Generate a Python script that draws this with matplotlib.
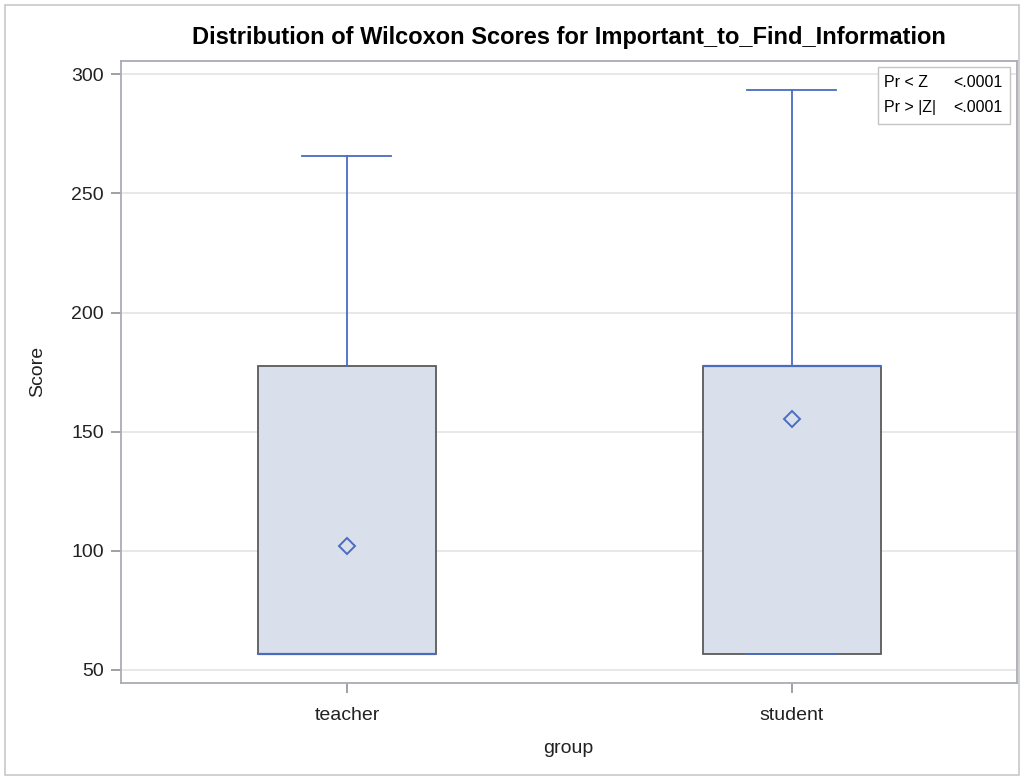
"""Box plot of Wilcoxon scores by group."""

import matplotlib

matplotlib.use("Agg")

import matplotlib.pyplot as plt
from matplotlib.patches import Rectangle

plt.rcParams["font.family"] = ["Liberation Sans", "DejaVu Sans"]

GROUPS = ["teacher", "student"]
WHISKER_LOW = [56.7, 56.7]
Q1 = [56.7, 56.7]
MEDIAN = [56.7, 177.6]
Q3 = [177.6, 177.6]
WHISKER_HIGH = [265.7, 293.4]
MEANS = [102.1, 155.4]
YTICKS = [50, 100, 150, 200, 250, 300]
PVALUE_ROWS = [("Pr < Z", "<.0001"), ("Pr > |Z|", "<.0001")]

BOX_FILL = "#dae0eb"
BOX_EDGE = "#5a5a5a"
LINE_BLUE = "#4a6cc0"
FRAME = "#a9adb3"

fig = plt.figure(figsize=(10.24, 7.78), dpi=100)
fig.patches.append(
    Rectangle((0.005, 0.004), 0.99, 0.99, transform=fig.transFigure,
              fill=False, edgecolor="#c8c8c8", linewidth=1.2)
)
ax = fig.add_axes([120.5 / 1024, 1 - 683 / 778, (1017 - 120.5) / 1024, (683 - 60.7) / 778])

stats = []
for i, name in enumerate(GROUPS):
    stats.append({
        "label": name,
        "whislo": WHISKER_LOW[i],
        "q1": Q1[i],
        "med": MEDIAN[i],
        "q3": Q3[i],
        "whishi": WHISKER_HIGH[i],
        "mean": MEANS[i],
        "fliers": [],
    })

ax.bxp(
    stats,
    positions=range(len(GROUPS)),
    widths=0.4,
    patch_artist=True,
    showmeans=True,
    boxprops=dict(facecolor=BOX_FILL, edgecolor=BOX_EDGE, linewidth=1.3),
    whiskerprops=dict(color=LINE_BLUE, linewidth=1.3),
    capprops=dict(color=LINE_BLUE, linewidth=1.3),
    capwidths=0.2,
    medianprops=dict(color=LINE_BLUE, linewidth=1.6),
    meanprops=dict(marker="D", markersize=8.5, markerfacecolor="none",
                   markeredgecolor=LINE_BLUE, markeredgewidth=1.4),
    zorder=3,
)

ax.set_xlim(-0.509, 1.506)
ax.set_ylim(44.5, 305.7)
ax.set_yticks(YTICKS)
ax.set_xticks(range(len(GROUPS)))
ax.set_xticklabels(GROUPS)
ax.grid(axis="y", color="#e4e4e4", linewidth=1.2, zorder=0)
ax.set_axisbelow(True)
ax.tick_params(colors="#888888", labelcolor="#222222", labelsize=14, length=7, width=1.1)
ax.tick_params(axis="x", pad=10)
ax.tick_params(axis="y", pad=5)
for spine in ax.spines.values():
    spine.set_color(FRAME)
    spine.set_linewidth(1.3)

ax.set_ylabel("Score", fontsize=14, color="#222222", labelpad=18)
ax.set_xlabel("group", fontsize=14, color="#222222", labelpad=12)
ax.set_title("Distribution of Wilcoxon Scores for Important_to_Find_Information",
             fontsize=17, fontweight="bold", pad=12)

# p-value inset in the upper right corner
ax.add_patch(Rectangle((0.845, 0.898), 0.147, 0.092, transform=ax.transAxes,
                       facecolor="white", edgecolor="#c4c4c4", linewidth=1.0, zorder=5))
for row, (label, value) in enumerate(PVALUE_ROWS):
    y = 0.965 - row * 0.041
    ax.text(0.852, y, label, transform=ax.transAxes, fontsize=11.5,
            va="center", ha="left", zorder=6)
    ax.text(0.984, y, value, transform=ax.transAxes, fontsize=11.5,
            va="center", ha="right", zorder=6)

fig.savefig("out.png", dpi=100)
